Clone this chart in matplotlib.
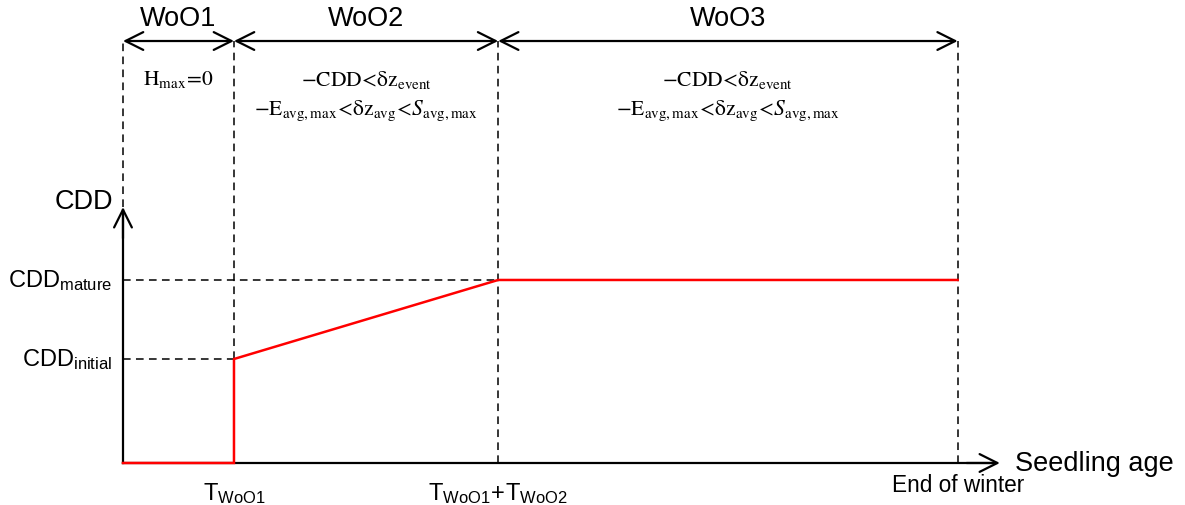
import matplotlib
matplotlib.use("Agg")
import matplotlib.pyplot as plt

plt.rcParams['font.family'] = ['Liberation Sans', 'DejaVu Sans']
plt.rcParams['mathtext.fontset'] = 'custom'
plt.rcParams['mathtext.rm'] = 'Liberation Sans'
plt.rcParams['mathtext.it'] = 'Liberation Sans:italic'

# schematic values (arbitrary units)
t_woo1 = 1.0
t_woo2 = 2.38
t_end = 7.52
cdd_initial = 1.0
cdd_mature = 1.76

phase_names = ["WoO1", "WoO2", "WoO3"]
phase_bounds = [0.0, t_woo1, t_woo1 + t_woo2, t_end]
y_ticklabels = [r"$\mathrm{CDD_{initial}}$", r"$\mathrm{CDD_{mature}}$"]
x_ticklabels = [r"$\mathrm{T_{WoO1}\!+\!T_{WoO2}}$", "End of winter"]
x_ticklabels = [r"$\mathrm{T_{WoO1}}$"] + x_ticklabels
LT = r"\!<\!"
cond_woo1 = [r"$\mathrm{H_{max}\!=\!0}$"]
cond_later = [r"$\mathrm{-CDD" + LT + r"\delta z_{event}}$",
              r"$\mathrm{-E_{avg,max}" + LT + r"\delta z_{avg}" + LT + r"}S_{\mathrm{avg,max}}$"]

fig = plt.figure(figsize=(11.85, 5.06), dpi=100)
ax = fig.add_axes([0, 0, 1, 1])
ax.set_xlim(-1.108, 9.568)
ax.set_ylim(-0.404, 4.462)
ax.axis('off')

top_y = 4.058
axis_top = 2.46
axis_right = 7.9
head = dict(lw=1.6, color='black', mutation_scale=32, shrinkA=0, shrinkB=0)

# CDD curve
xs = [0, t_woo1, t_woo1, t_woo1 + t_woo2, t_end]
ys = [0, 0, cdd_initial, cdd_mature, cdd_mature]

# axes arrows
ax.plot([0, axis_right - 0.05], [0, 0], color='black', lw=1.6, zorder=2)
ax.plot([0, 0], [0, axis_top - 0.03], color='black', lw=1.6, zorder=2)
ax.annotate("", xy=(axis_right, 0), xytext=(axis_right - 0.3, 0), arrowprops=dict(arrowstyle='->', **head))
ax.annotate("", xy=(0, axis_top), xytext=(0, axis_top - 0.3), arrowprops=dict(arrowstyle='->', **head))

ax.plot(xs, ys, color='#ff0000', lw=1.8, zorder=3, solid_joinstyle='miter')

# dashed guides
dash = dict(color='black', lw=1.1, ls=(0, (5, 3.5)), zorder=1)
ax.plot([0, 0], [axis_top, top_y], **dash)
ax.plot([t_woo1, t_woo1], [cdd_initial, top_y], **dash)
ax.plot([t_woo1 + t_woo2] * 2, [0, top_y], **dash)
ax.plot([t_end, t_end], [0, top_y], **dash)
ax.plot([0, t_woo1], [cdd_initial, cdd_initial], **dash)
ax.plot([0, t_woo1 + t_woo2], [cdd_mature, cdd_mature], **dash)

# phase arrows and names
for i, name in enumerate(phase_names):
    a, b = phase_bounds[i], phase_bounds[i + 1]
    ax.annotate("", xy=(b, top_y), xytext=(a, top_y), arrowprops=dict(arrowstyle='<->', **head))
    ax.text((a + b) / 2, top_y + 0.225, name, ha='center', va='center', fontsize=19.5)

# conditions
ax.text(t_woo1 / 2, 3.7, cond_woo1[0], ha='center', va='center', fontsize=15.5, math_fontfamily='stix')
for i in (1, 2):
    cx = (phase_bounds[i] + phase_bounds[i + 1]) / 2
    ax.text(cx, 3.69, cond_later[0], ha='center', va='center', fontsize=15.5, math_fontfamily='stix')
    ax.text(cx, 3.40, cond_later[1], ha='center', va='center', fontsize=15.5, math_fontfamily='stix')

# axis labels
ax.text(-0.09, axis_top + 0.06, "CDD", ha='right', va='center', fontsize=19.5)
ax.text(8.04, 0.0, "Seedling age", ha='left', va='center', fontsize=19.5)
for val, lab in zip([cdd_initial, cdd_mature], y_ticklabels):
    ax.text(-0.1, val, lab, ha='right', va='center', fontsize=17)
ax.text(t_woo1, -0.28, x_ticklabels[0], ha='center', va='center', fontsize=17)
ax.text(t_woo1 + t_woo2, -0.28, x_ticklabels[1], ha='center', va='center', fontsize=17)
ax.text(t_end, -0.21, x_ticklabels[2], ha='center', va='center', fontsize=16.3)

fig.savefig("out.png", dpi=100)
